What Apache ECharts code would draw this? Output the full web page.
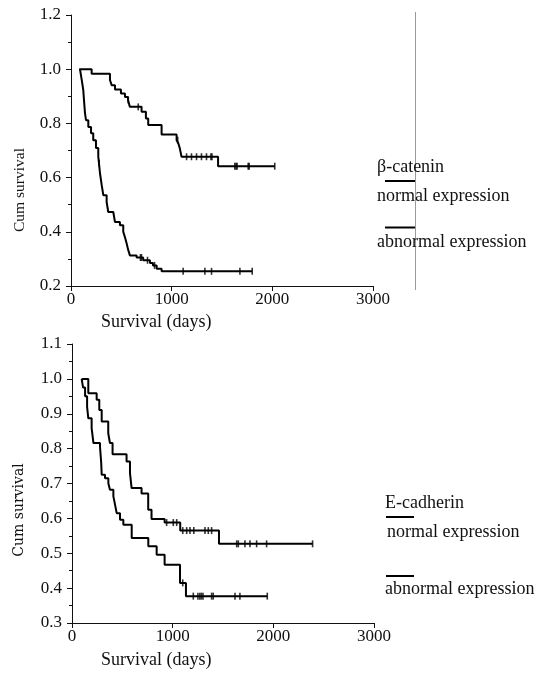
<!DOCTYPE html>
<html>
<head>
<meta charset="utf-8">
<script src="https://cdn.jsdelivr.net/npm/echarts@6/dist/echarts.min.js"></script>
<style>
html,body{margin:0;padding:0;background:#fff;}
#chart{width:547px;height:679px;}
</style>
</head>
<body>
<div id="chart"></div>
<script>
// ---- Data ----
const xTicks = [0, 1000, 2000, 3000];
const topYTicks = [0.2, 0.4, 0.6, 0.8, 1.0, 1.2];
const botYTicks = [0.3, 0.4, 0.5, 0.6, 0.7, 0.8, 0.9, 1.0, 1.1];

const topTitle = 'β-catenin';
const botTitle = 'E-cadherin';
const groupNames = ['normal expression', 'abnormal expression'];

// beta-catenin, normal expression: [day, cumulative survival]
const betaNormal = [[82,1.0],[205,0.983],[387,0.96],[404,0.941],[437,0.925],[496,0.91],[536,0.897],[566,0.886],[585,0.861],[701,0.843],[744,0.818],[767,0.794],[900,0.759],[1049,0.738],[1066,0.727],[1081,0.708],[1098,0.677],[1461,0.642],[2024,0.642]];
const betaNormalCensor = [[569,0.886],[668,0.861],[1060,0.738],[1148,0.677],[1197,0.677],[1247,0.677],[1296,0.677],[1346,0.677],[1390,0.677],[1400,0.677],[1627,0.642],[1640,0.642],[1650,0.642],[1760,0.642],[1770,0.642],[2024,0.642]];

// beta-catenin, abnormal expression
const betaAbnormal = [[89,1.0],[107,0.96],[122,0.923],[129,0.886],[139,0.838],[149,0.812],[172,0.787],[199,0.764],[221,0.738],[248,0.709],[271,0.677],[278,0.653],[288,0.616],[305,0.572],[321,0.535],[354,0.51],[370,0.473],[420,0.467],[437,0.436],[486,0.424],[519,0.4],[536,0.38],[553,0.357],[566,0.336],[585,0.313],[652,0.305],[717,0.295],[784,0.285],[814,0.276],[851,0.264],[900,0.254],[1800,0.254]];
const betaAbnormalCensor = [[280,0.653],[690,0.305],[700,0.305],[760,0.295],[830,0.276],[1114,0.254],[1330,0.254],[1396,0.254],[1678,0.254],[1800,0.254]];

// E-cadherin, normal expression
const ecadNormal = [[96,1.0],[162,0.959],[245,0.94],[271,0.911],[295,0.878],[360,0.844],[377,0.816],[403,0.784],[542,0.763],[576,0.73],[592,0.687],[691,0.671],[757,0.625],[790,0.598],[920,0.588],[1075,0.565],[1460,0.527],[2390,0.527]];
const ecadNormalCensor = [[940,0.588],[1006,0.588],[1040,0.588],[1100,0.565],[1139,0.565],[1172,0.565],[1210,0.565],[1321,0.565],[1354,0.565],[1387,0.565],[1636,0.527],[1652,0.527],[1718,0.527],[1768,0.527],[1834,0.527],[1933,0.527],[2390,0.527]];

// E-cadherin, abnormal expression
const ecadAbnormal = [[96,1.0],[110,0.975],[130,0.95],[150,0.92],[162,0.887],[195,0.859],[213,0.816],[278,0.806],[290,0.76],[295,0.725],[328,0.715],[361,0.701],[377,0.682],[411,0.663],[427,0.64],[444,0.615],[477,0.596],[510,0.582],[593,0.544],[758,0.52],[841,0.496],[920,0.467],[1073,0.415],[1132,0.377],[1940,0.377]];
const ecadAbnormalCensor = [[1100,0.415],[1205,0.377],[1251,0.377],[1270,0.377],[1285,0.377],[1301,0.377],[1387,0.377],[1403,0.377],[1619,0.377],[1668,0.377],[1940,0.377]];

// ---- Chart ----
const FONT = '"Liberation Serif", "Times New Roman", serif';
const chart = echarts.init(document.getElementById('chart'), null, {renderer: 'canvas'});

function xAxis(gi) {
  return {
    gridIndex: gi, type: 'value',
    min: xTicks[0], max: xTicks[xTicks.length - 1], interval: xTicks[1] - xTicks[0],
    axisLine: {show: true, onZero: false, lineStyle: {color: '#111', width: 1}},
    axisTick: {show: true, inside: false, length: 5, lineStyle: {color: '#111'}},
    axisLabel: {fontFamily: FONT, fontSize: 17, color: '#111', margin: 5,
      formatter: v => String(Math.round(v))},
    splitLine: {show: false}
  };
}
function yAxis(gi, ticks) {
  return {
    gridIndex: gi, type: 'value',
    min: ticks[0], max: ticks[ticks.length - 1],
    interval: Math.round((ticks[1] - ticks[0]) * 10) / 10,
    axisLine: {show: true, onZero: false, lineStyle: {color: '#111', width: 1}},
    axisTick: {show: true, inside: false, length: 5, lineStyle: {color: '#111'}},
    minorTick: {show: true, splitNumber: 2, length: 3, lineStyle: {color: '#111'}},
    axisLabel: {fontFamily: FONT, fontSize: 17, color: '#111', margin: 10,
      formatter: v => v.toFixed(1)},
    splitLine: {show: false}
  };
}
function km(data, gi) {
  return {type: 'line', xAxisIndex: gi, yAxisIndex: gi, data: data, step: 'end',
    symbol: 'none', lineStyle: {color: '#000', width: 2}, silent: true, animation: false};
}
function cens(data, gi) {
  return {type: 'scatter', xAxisIndex: gi, yAxisIndex: gi, data: data,
    symbol: 'rect', symbolSize: [1.6, 7], itemStyle: {color: '#000'}, silent: true, animation: false};
}
function txt(x, y, s, size, extra) {
  return Object.assign({type: 'text', x: x, y: y, silent: true,
    style: {text: s, fontFamily: FONT, fontSize: size, fill: '#111', textVerticalAlign: 'middle'}}, extra || {});
}
function seg(x1, y1, x2, y2, color, w) {
  return {type: 'line', silent: true, shape: {x1: x1, y1: y1, x2: x2, y2: y2},
    style: {stroke: color, lineWidth: w}};
}

chart.setOption({
  backgroundColor: '#fff',
  animation: false,
  grid: [
    {left: 71, top: 15, width: 302, height: 271, containLabel: false},
    {left: 72, top: 344, width: 302, height: 279, containLabel: false}
  ],
  xAxis: [xAxis(0), xAxis(1)],
  yAxis: [yAxis(0, topYTicks), yAxis(1, botYTicks)],
  series: [
    km(betaNormal, 0), km(betaAbnormal, 0), cens(betaNormalCensor, 0), cens(betaAbnormalCensor, 0),
    km(ecadNormal, 1), km(ecadAbnormal, 1), cens(ecadNormalCensor, 1), cens(ecadAbnormalCensor, 1)
  ],
  graphic: [
    seg(415.5, 12, 415.5, 290, '#9a9a9a', 1),
    // top axis titles
    txt(101, 322, 'Survival (days)', 18),
    {type: 'text', silent: true, x: 20, y: 190, rotation: Math.PI / 2,
      style: {text: 'Cum survival', fontFamily: FONT, fontSize: 15.5, fill: '#111', align: 'center', verticalAlign: 'middle'}},
    // top legend
    txt(377, 167, topTitle, 18),
    seg(385, 181, 415, 181, '#000', 2),
    txt(377, 196, groupNames[0], 18),
    seg(385, 227.5, 415, 227.5, '#000', 2),
    txt(377, 242, groupNames[1], 18),
    // bottom axis titles
    txt(101, 660, 'Survival (days)', 18),
    {type: 'text', silent: true, x: 19, y: 510, rotation: Math.PI / 2,
      style: {text: 'Cum survival', fontFamily: '"DejaVu Serif", serif', fontSize: 14, fill: '#111', align: 'center', verticalAlign: 'middle'}},
    // bottom legend
    txt(385, 503, botTitle, 18),
    seg(386, 517, 414, 517, '#000', 2),
    txt(387, 532, groupNames[0], 18),
    seg(386, 576, 414, 576, '#000', 2),
    txt(385, 589, groupNames[1], 18)
  ]
});
</script>
</body>
</html>
